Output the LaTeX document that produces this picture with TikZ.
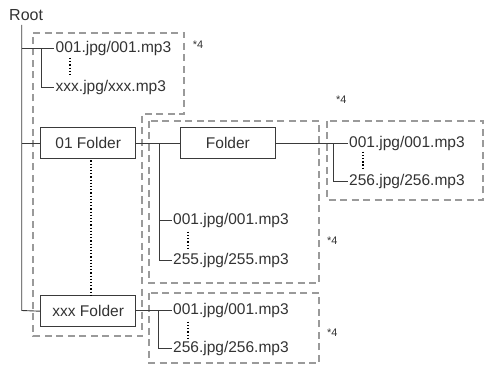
\documentclass[tikz,border=0pt]{standalone}
\usepackage{fontspec}
\setmainfont{Liberation Sans}
\definecolor{textgray}{HTML}{333333}
\definecolor{linegray}{HTML}{3A3A3A}
\definecolor{dashgray}{HTML}{9A9A9A}
\begin{document}
\begin{tikzpicture}[x=1pt,y=-1pt,
 txt/.style={font=\fontsize{15.5}{18}\selectfont, text=textgray, inner xsep=1.5pt, inner ysep=0pt, anchor=west},
 folderbox/.style={draw=linegray, line width=0.9pt, minimum width=95pt, minimum height=31pt, font=\fontsize{15.5}{18}\selectfont, text=textgray, inner sep=0pt},
 link/.style={draw=linegray, line width=0.9pt},
 dotline/.style={draw=black, line width=1.8pt, dash pattern=on 1.3pt off 1.9pt},
 group/.style={draw=dashgray, line width=1.8pt, dash pattern=on 7pt off 4.5pt},
 note/.style={font=\fontsize{11}{12}\selectfont, text=textgray, inner sep=0pt, anchor=west}]
\useasboundingbox (0,0) rectangle (487,366);

% dashed groups
\draw[group] (33,33) -- (184,33) -- (184,114) -- (142,114) -- (142,336) -- (33,336) -- cycle;
\draw[group] (149,121) rectangle (319,283);
\draw[group] (327,121) rectangle (483,200);
\draw[group] (149,293) rectangle (319,363);

% root
\node[txt, inner xsep=0pt, font=\fontsize{16}{18}\selectfont] (root) at (9,15) {Root};
\coordinate (rtop) at (21.7,25);
\coordinate (rbot) at (21.7,310.5);

% top files
\node[txt] (a1) at (54,48.7) {001.jpg/001.mp3};
\node[txt] (a2) at (54,87.7) {xxx.jpg/xxx.mp3};
\coordinate (ab) at (41.7,48.7);

% folders
\node[folderbox] (f01) at (88.2,143.4) {01 Folder};
\node[folderbox] (fxx) at (88.2,311.2) {xxx Folder};
\node[folderbox] (fsub) at (227.9,143.4) {Folder};

% middle files
\node[txt] (b1) at (171.5,220) {001.jpg/001.mp3};
\node[txt] (b2) at (171.5,260.7) {255.jpg/255.mp3};
\coordinate (bb) at (159.3,143.4);

% right files
\node[txt] (c1) at (347.5,143.4) {001.jpg/001.mp3};
\node[txt] (c2) at (347.5,181) {256.jpg/256.mp3};
\coordinate (cb) at (333.3,143.4);

% bottom files
\node[txt] (d1) at (171.5,310.5) {001.jpg/001.mp3};
\node[txt] (d2) at (171.5,348.3) {256.jpg/256.mp3};
\coordinate (db) at (158.3,310.5);

% notes
\node[note] (n1) at (192.7,44.5) {*4};
\node[note] (n2) at (336,99.5) {*4};
\node[note] (n3) at (327,240.7) {*4};
\node[note] (n4) at (327,333) {*4};

% connectors
\draw[link] (rtop) -- (rbot) -- (fxx.west);
\draw[link] (rtop |- a1) -- (a1.west);
\draw[link] (ab) |- (a2.west);
\draw[link] (rtop |- f01) -- (f01.west);
\draw[link] (f01.east) -- (fsub.west);
\draw[link] (bb) |- (b1.west);
\draw[link] (bb |- b1) |- (b2.west);
\draw[link] (fsub.east) -- (c1.west);
\draw[link] (cb) |- (c2.west);
\draw[link] (fxx.east |- d1) -- (d1.west);
\draw[link] (db) |- (d2.west);

% dotted continuation marks
\draw[dotline] (70,58) -- (70,76);
\draw[dotline] (f01.south) ++(2.5,1) coordinate (fd1) -- (fd1 |- fxx.north);
\draw[dotline] (188,231.7) -- (188,249);
\draw[dotline] (363,151.7) -- (363,169);
\draw[dotline] (188.3,321.7) -- (188.3,340);
\end{tikzpicture}
\end{document}
